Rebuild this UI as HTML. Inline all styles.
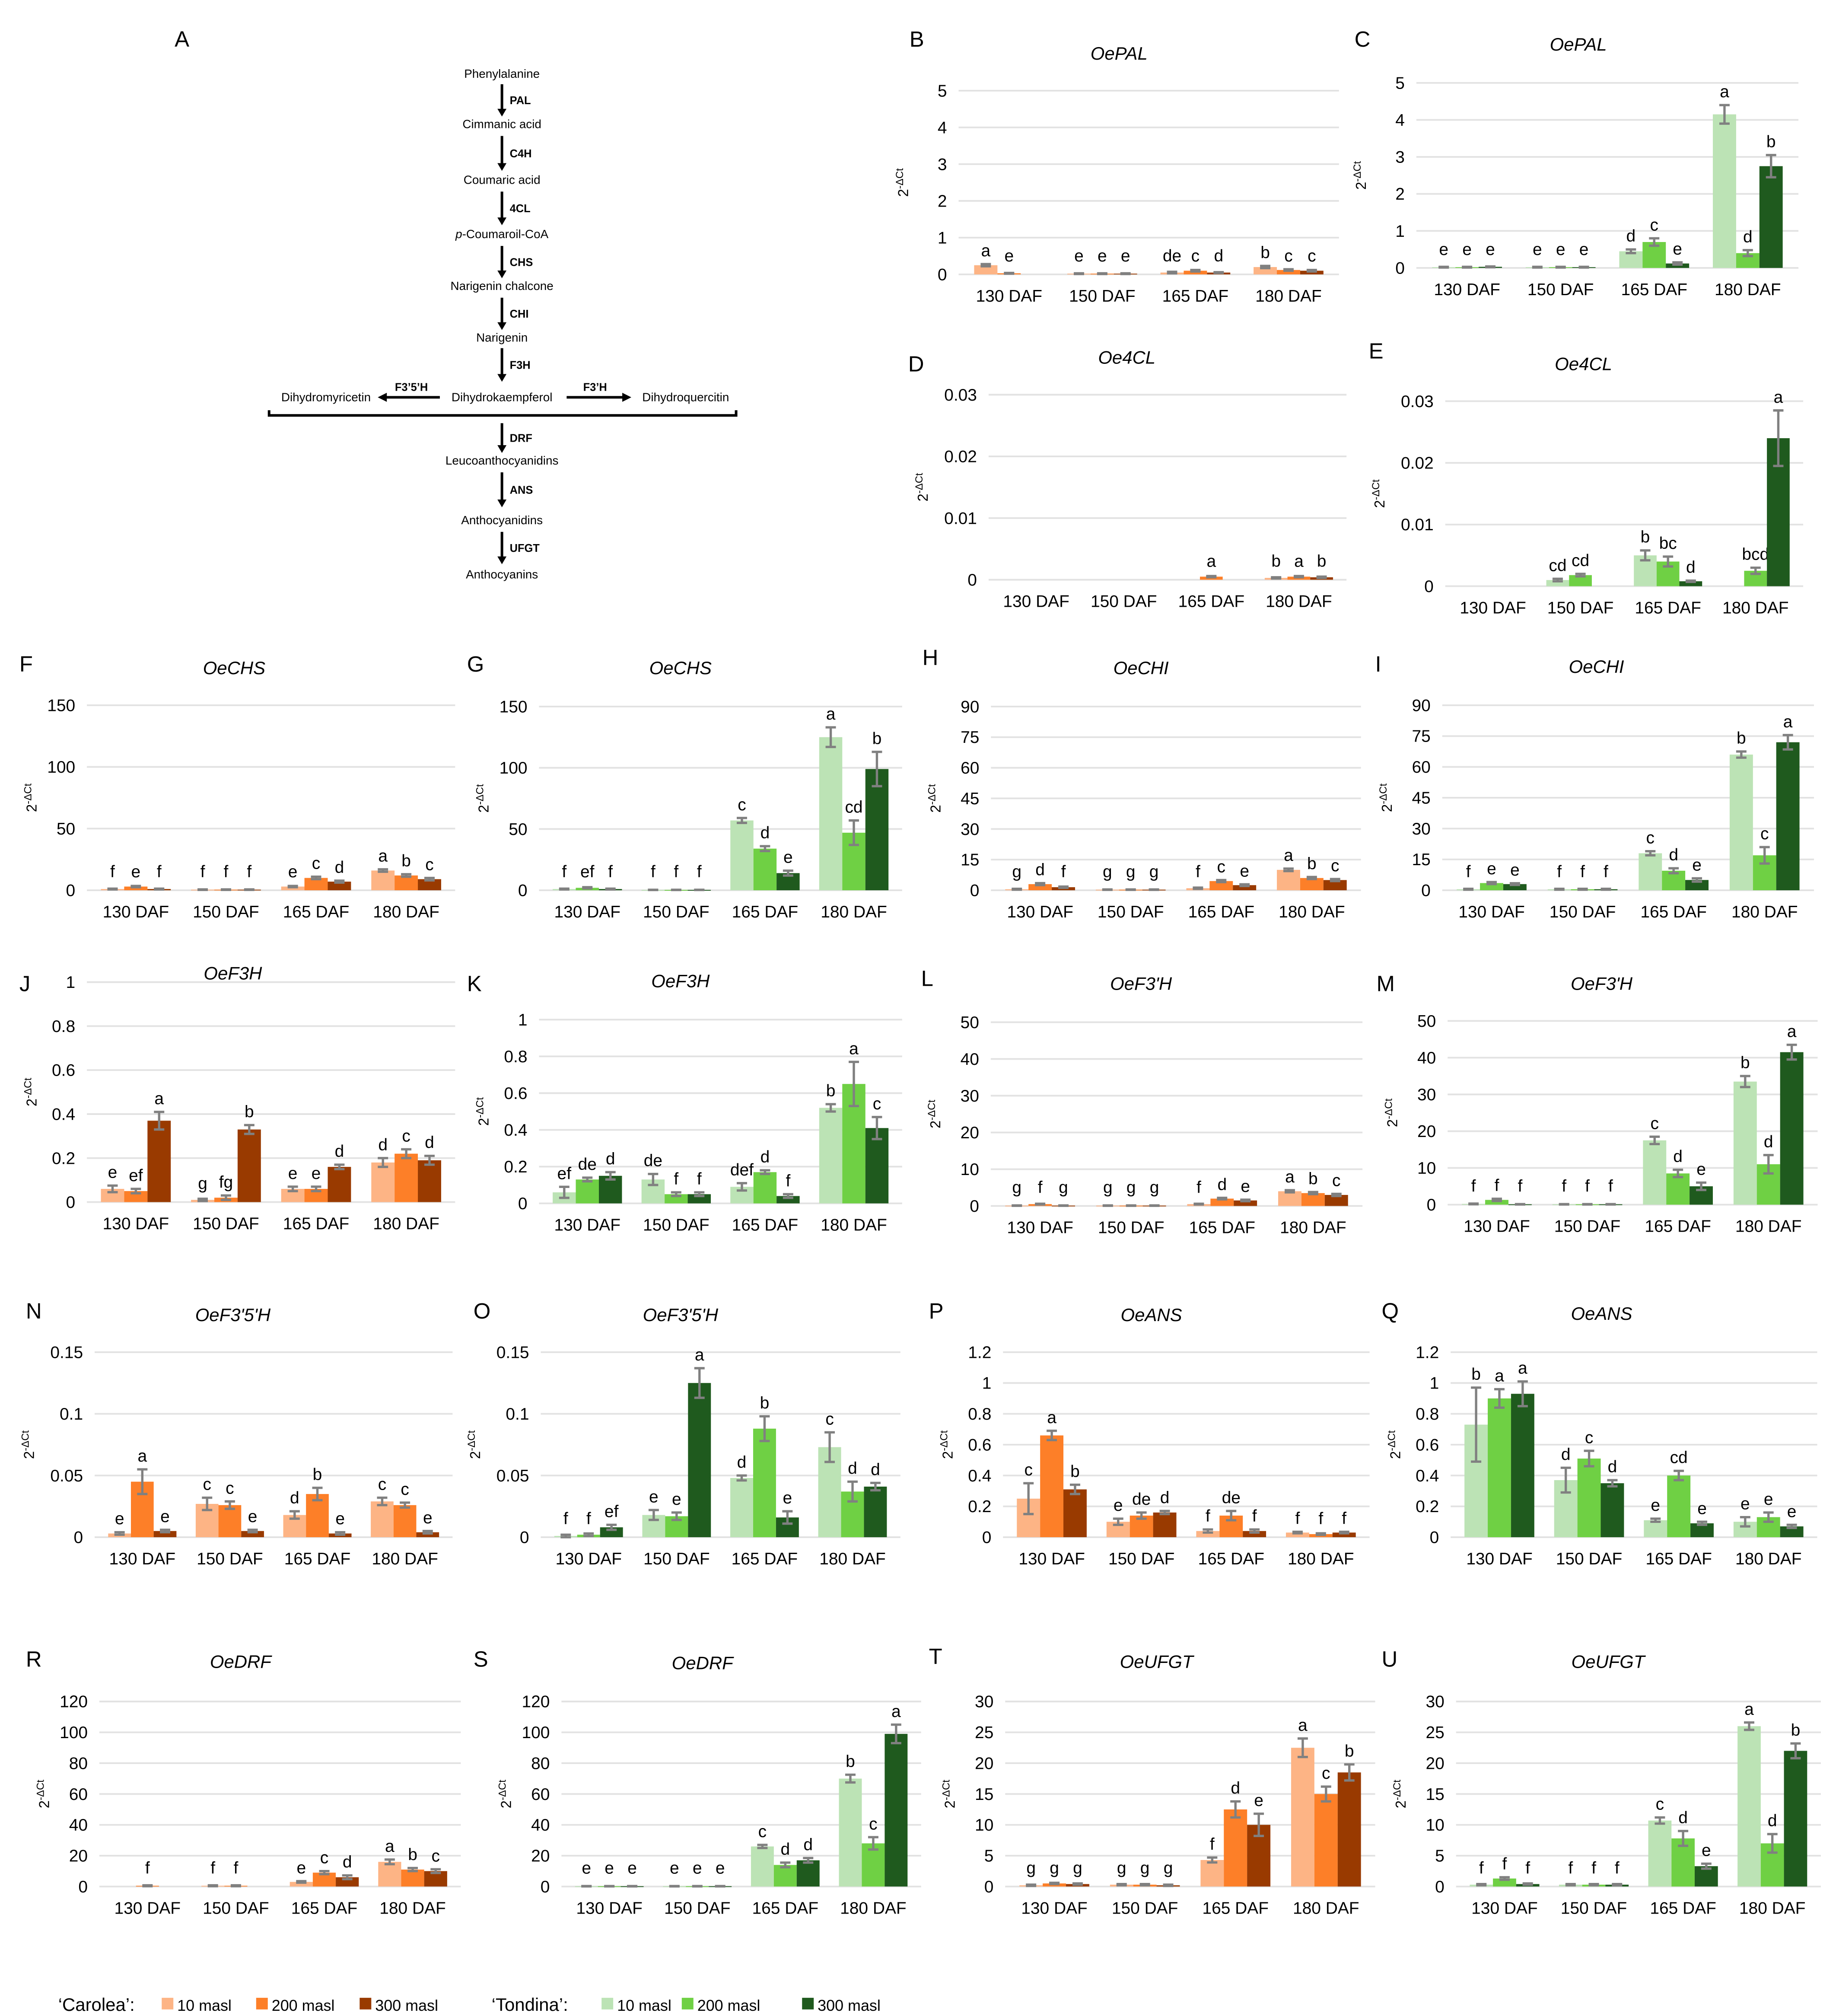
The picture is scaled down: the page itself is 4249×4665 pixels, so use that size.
<!DOCTYPE html>
<html><head><meta charset="utf-8"><style>
html,body{margin:0;padding:0;background:#fff;}
svg{display:block;font-family:"Liberation Sans",sans-serif;}
</style></head><body>
<svg id="fig" width="4249" height="4665" viewBox="0 0 1419.2 1558" xmlns="http://www.w3.org/2000/svg">
<g id="pathway" font-size="9" fill="#000">
<text x="135" y="36" font-size="17">A</text>
</g>
<g id="charts"></g>
<g id="legend" font-size="13"></g>
</svg>
<script>
const NS="http://www.w3.org/2000/svg";
const categories=["130 DAF","150 DAF","165 DAF","180 DAF"];
const caroleaColors=["#fdb485","#fd7f28","#993a00"];
const tondinaColors=["#bce3b5","#6fd044","#1f5a1e"];

const pB_values=[[0.25,0.03,0],[0.02,0.02,0.02],[0.05,0.1,0.05],[0.2,0.12,0.1]];
const pB_errors=[[0.03,0.01,0],[0.01,0.01,0.01],[0.02,0.02,0.01],[0.03,0.02,0.02]];
const pB_letters=[["a","e",""],["e","e","e"],["de","c","d"],["b","c","c"]];
const pC_values=[[0.02,0.02,0.03],[0.02,0.02,0.02],[0.45,0.7,0.12],[4.15,0.4,2.75]];
const pC_errors=[[0.01,0.01,0.01],[0.01,0.01,0.01],[0.05,0.1,0.03],[0.25,0.08,0.3]];
const pC_letters=[["e","e","e"],["e","e","e"],["d","c","e"],["a","d","b"]];
const pD_values=[[0,0,0],[0,0,0],[0,0.0005,0],[0.0003,0.0005,0.0004]];
const pD_errors=[[0,0,0],[0,0,0],[0,0.0001,0],[0.0001,0.0001,0.0001]];
const pD_letters=[["","",""],["","",""],["","a",""],["b","a","b"]];
const pE_values=[[0,0,0],[0.001,0.0018,0],[0.005,0.004,0.0008],[0,0.0025,0.024]];
const pE_errors=[[0,0,0],[0.0002,0.0002,0],[0.0008,0.0008,0.0001],[0,0.0005,0.0045]];
const pE_letters=[["","",""],["cd","cd",""],["b","bc","d"],["","bcd","a"]];
const pF_values=[[1,3,1],[0.5,0.5,0.5],[3,10,7],[16,12,9]];
const pF_errors=[[0.3,0.5,0.3],[0.2,0.2,0.2],[0.5,1,0.8],[1,1,1]];
const pF_letters=[["f","e","f"],["f","f","f"],["e","c","d"],["a","b","c"]];
const pG_values=[[1,2,1],[0.3,0.3,0.3],[57,34,14],[125,47,99]];
const pG_errors=[[0.3,0.5,0.3],[0.1,0.1,0.1],[2,2,2],[8,10,14]];
const pG_letters=[["f","ef","f"],["f","f","f"],["c","d","e"],["a","cd","b"]];
const pH_values=[[0.5,3,1.5],[0.3,0.3,0.3],[1,4.5,2.5],[10,6,5]];
const pH_errors=[[0.2,0.5,0.3],[0.1,0.1,0.1],[0.3,0.5,0.4],[0.6,0.5,0.5]];
const pH_letters=[["g","d","f"],["g","g","g"],["f","c","e"],["a","b","c"]];
const pI_values=[[0.5,3.5,3],[0.5,0.5,0.5],[18,9.5,5],[66,17,72]];
const pI_errors=[[0.2,0.5,0.4],[0.2,0.2,0.2],[1,1.2,0.8],[1.5,4,3.5]];
const pI_letters=[["f","e","e"],["f","f","f"],["c","d","e"],["b","c","a"]];
const pJ_values=[[0.06,0.05,0.37],[0.01,0.02,0.33],[0.06,0.06,0.16],[0.18,0.22,0.19]];
const pJ_errors=[[0.015,0.01,0.04],[0.005,0.01,0.02],[0.01,0.01,0.01],[0.02,0.02,0.02]];
const pJ_letters=[["e","ef","a"],["g","fg","b"],["e","e","d"],["d","c","d"]];
const pK_values=[[0.06,0.13,0.15],[0.13,0.05,0.05],[0.09,0.17,0.04],[0.52,0.65,0.41]];
const pK_errors=[[0.03,0.01,0.02],[0.03,0.01,0.01],[0.02,0.01,0.01],[0.02,0.12,0.06]];
const pK_letters=[["ef","de","d"],["de","f","f"],["def","d","f"],["b","a","c"]];
const pL_values=[[0.1,0.5,0.1],[0.1,0.1,0.1],[0.5,2,1.5],[4,3.5,3]];
const pL_errors=[[0.05,0.1,0.05],[0.05,0.05,0.05],[0.1,0.2,0.2],[0.3,0.3,0.3]];
const pL_letters=[["g","f","g"],["g","g","g"],["f","d","e"],["a","b","c"]];
const pM_values=[[0.2,1.3,0.1],[0.1,0.1,0.1],[17.5,8.5,5],[33.5,11,41.5]];
const pM_errors=[[0.1,0.3,0.05],[0.05,0.05,0.05],[1,1,1],[1.5,2.5,2]];
const pM_letters=[["f","f","f"],["f","f","f"],["c","d","e"],["b","d","a"]];
const pN_values=[[0.003,0.045,0.005],[0.027,0.026,0.005],[0.018,0.035,0.003],[0.029,0.026,0.004]];
const pN_errors=[[0.001,0.01,0.001],[0.005,0.003,0.001],[0.003,0.005,0.001],[0.003,0.002,0.001]];
const pN_letters=[["e","a","e"],["c","c","e"],["d","b","e"],["c","c","e"]];
const pO_values=[[0.001,0.002,0.008],[0.018,0.017,0.125],[0.048,0.088,0.016],[0.073,0.037,0.041]];
const pO_errors=[[0.001,0.001,0.002],[0.004,0.003,0.012],[0.002,0.01,0.005],[0.012,0.008,0.003]];
const pO_letters=[["f","f","ef"],["e","e","a"],["d","b","e"],["c","d","d"]];
const pP_values=[[0.25,0.66,0.31],[0.1,0.14,0.16],[0.04,0.14,0.04],[0.03,0.02,0.03]];
const pP_errors=[[0.1,0.03,0.03],[0.02,0.02,0.01],[0.01,0.03,0.01],[0.005,0.005,0.005]];
const pP_letters=[["c","a","b"],["e","de","d"],["f","de","f"],["f","f","f"]];
const pQ_values=[[0.73,0.9,0.93],[0.37,0.51,0.35],[0.11,0.4,0.09],[0.1,0.13,0.07]];
const pQ_errors=[[0.24,0.06,0.08],[0.08,0.05,0.02],[0.01,0.03,0.01],[0.03,0.03,0.01]];
const pQ_letters=[["b","a","a"],["d","c","d"],["e","cd","e"],["e","e","e"]];
const pR_values=[[0,0.5,0],[0.5,0.5,0],[3,9,6],[16,11,10]];
const pR_errors=[[0,0.3,0],[0.3,0.3,0],[0.5,1,1.2],[1.5,1,1.2]];
const pR_letters=[["","f",""],["f","f",""],["e","c","d"],["a","b","c"]];
const pS_values=[[0.2,0.2,0.2],[0.2,0.2,0.2],[26,14,17],[70,28,99]];
const pS_errors=[[0.1,0.1,0.1],[0.1,0.1,0.1],[1,1.5,1.5],[2.5,4,6]];
const pS_letters=[["e","e","e"],["e","e","e"],["c","d","d"],["b","c","a"]];
const pT_values=[[0.2,0.5,0.4],[0.3,0.3,0.2],[4.3,12.5,10],[22.5,15,18.5]];
const pT_errors=[[0.1,0.1,0.1],[0.1,0.1,0.1],[0.4,1.3,1.8],[1.5,1.2,1.3]];
const pT_letters=[["g","g","g"],["g","g","g"],["f","d","e"],["a","c","b"]];
const pU_values=[[0.3,1.3,0.4],[0.3,0.3,0.3],[10.7,7.8,3.3],[26,7,22]];
const pU_errors=[[0.1,0.2,0.1],[0.1,0.1,0.1],[0.5,1.2,0.4],[0.6,1.5,1.2]];
const pU_letters=[["f","f","f"],["f","f","f"],["c","d","e"],["a","d","b"]];

const ticksPAL=["0","1","2","3","4","5"];
const ticks4CL=["0","0.01","0.02","0.03"];
const ticksCHS=["0","50","100","150"];
const ticksCHI=["0","15","30","45","60","75","90"];
const ticksF3H=["0","0.2","0.4","0.6","0.8","1"];
const ticksF3pH=["0","10","20","30","40","50"];
const ticksF35H=["0","0.05","0.1","0.15"];
const ticksANS=["0","0.2","0.4","0.6","0.8","1","1.2"];
const ticksDRF=["0","20","40","60","80","100","120"];
const ticksUFGT=["0","5","10","15","20","25","30"];

function mk(tag,attrs,parent,text){const e=document.createElementNS(NS,tag);for(const k in attrs)e.setAttribute(k,attrs[k]);if(text!==undefined)e.textContent=text;parent.appendChild(e);return e;}

const panels=[
 {id:"B",title:"OePAL",c1:780,c4:996,tX:865,tY:46,yTop:70,yZero:212,ticks:ticksPAL,v:pB_values,e:pB_errors,l:pB_letters,c:caroleaColors,lx:703,ly:36},
 {id:"C",title:"OePAL",c1:1134,c4:1351,tX:1220,tY:39,yTop:64,yZero:207,ticks:ticksPAL,v:pC_values,e:pC_errors,l:pC_letters,c:tondinaColors,lx:1047,ly:36},
 {id:"D",title:"Oe4CL",c1:801,c4:1004,tX:871,tY:281,yTop:305,yZero:448,ticks:ticks4CL,v:pD_values,e:pD_errors,l:pD_letters,c:caroleaColors,lx:702,ly:287},
 {id:"E",title:"Oe4CL",c1:1154,c4:1357,tX:1224,tY:286,yTop:310,yZero:453,ticks:ticks4CL,v:pE_values,e:pE_errors,l:pE_letters,c:tondinaColors,lx:1058,ly:277},
 {id:"F",title:"OeCHS",c1:105,c4:314,tX:181,tY:521,yTop:545,yZero:688,ticks:ticksCHS,v:pF_values,e:pF_errors,l:pF_letters,c:caroleaColors,lx:15,ly:519},
 {id:"G",title:"OeCHS",c1:454,c4:660,tX:526,tY:521,yTop:546,yZero:688,ticks:ticksCHS,v:pG_values,e:pG_errors,l:pG_letters,c:tondinaColors,lx:361,ly:519},
 {id:"H",title:"OeCHI",c1:804,c4:1014,tX:882,tY:521,yTop:546,yZero:688,ticks:ticksCHI,v:pH_values,e:pH_errors,l:pH_letters,c:caroleaColors,lx:713,ly:514},
 {id:"I",title:"OeCHI",c1:1153,c4:1364,tX:1234,tY:520,yTop:545,yZero:688,ticks:ticksCHI,v:pI_values,e:pI_errors,l:pI_letters,c:tondinaColors,lx:1063,ly:519},
 {id:"J",title:"OeF3H",c1:105,c4:314,tX:180,tY:757,yTop:759,yZero:929,ticks:ticksF3H,v:pJ_values,e:pJ_errors,l:pJ_letters,c:caroleaColors,lx:15,ly:766},
 {id:"K",title:"OeF3H",c1:454,c4:660,tX:526,tY:763,yTop:788,yZero:930,ticks:ticksF3H,v:pK_values,e:pK_errors,l:pK_letters,c:tondinaColors,lx:361,ly:766},
 {id:"L",title:"OeF3'H",c1:804,c4:1015,tX:882,tY:765,yTop:790,yZero:932,ticks:ticksF3pH,v:pL_values,e:pL_errors,l:pL_letters,c:caroleaColors,lx:712,ly:762},
 {id:"M",title:"OeF3'H",c1:1157,c4:1367,tX:1238,tY:765,yTop:789,yZero:931,ticks:ticksF3pH,v:pM_values,e:pM_errors,l:pM_letters,c:tondinaColors,lx:1064,ly:766},
 {id:"N",title:"OeF3'5'H",c1:110,c4:313,tX:180,tY:1021,yTop:1045,yZero:1188,ticks:ticksF35H,v:pN_values,e:pN_errors,l:pN_letters,c:caroleaColors,lx:20,ly:1019},
 {id:"O",title:"OeF3'5'H",c1:455,c4:659,tX:526,tY:1021,yTop:1045,yZero:1188,ticks:ticksF35H,v:pO_values,e:pO_errors,l:pO_letters,c:tondinaColors,lx:366,ly:1019},
 {id:"P",title:"OeANS",c1:813,c4:1021,tX:890,tY:1021,yTop:1045,yZero:1188,ticks:ticksANS,v:pP_values,e:pP_errors,l:pP_letters,c:caroleaColors,lx:718,ly:1019},
 {id:"Q",title:"OeANS",c1:1159,c4:1367,tX:1238,tY:1020,yTop:1045,yZero:1188,ticks:ticksANS,v:pQ_values,e:pQ_errors,l:pQ_letters,c:tondinaColors,lx:1068,ly:1019},
 {id:"R",title:"OeDRF",c1:114,c4:319,tX:186,tY:1289,yTop:1315,yZero:1458,ticks:ticksDRF,v:pR_values,e:pR_errors,l:pR_letters,c:caroleaColors,lx:20,ly:1288},
 {id:"S",title:"OeDRF",c1:471,c4:675,tX:543,tY:1290,yTop:1315,yZero:1458,ticks:ticksDRF,v:pS_values,e:pS_errors,l:pS_letters,c:tondinaColors,lx:366,ly:1288},
 {id:"T",title:"OeUFGT",c1:815,c4:1025,tX:894,tY:1289,yTop:1315,yZero:1458,ticks:ticksUFGT,v:pT_values,e:pT_errors,l:pT_letters,c:caroleaColors,lx:718,ly:1286},
 {id:"U",title:"OeUFGT",c1:1163,c4:1370,tX:1243,tY:1289,yTop:1315,yZero:1458,ticks:ticksUFGT,v:pU_values,e:pU_errors,l:pU_letters,c:tondinaColors,lx:1068,ly:1288}
];

const root=document.getElementById("charts");
panels.forEach(p=>{
  const gw=(p.c4-p.c1)/3;
  p.x0=p.c1-gw/2; p.x1=p.c4+gw/2;
  const g=mk("g",{},root);
  
  
  const maxV=parseFloat(p.ticks[p.ticks.length-1]);
  const yScale=v=>p.yZero-(v/maxV)*(p.yZero-p.yTop);
  const xCenter=i=>p.x0+gw*(i+0.5);
  const bw=Math.min(18,gw*0.26);
  const pl=mk("text",{x:p.lx,y:p.ly,"font-size":17},g,p.id);
  
  
  const tt=mk("text",{x:p.tX,y:p.tY,"font-size":14,"font-style":"italic","text-anchor":"middle"},g,p.title);
  
  
  p.ticks.forEach(t=>{
    const y=yScale(parseFloat(t));
    const gl=mk("line",{x1:p.x0-3,x2:p.x1+3,y1:y,y2:y,stroke:"#e2e2e2","stroke-width":1.3},g);
    
    
    const tl=mk("text",{x:p.x0-12,y:y+4.5,"font-size":13,"text-anchor":"end"},g,t);
    
    
  });
  const ym=(p.yTop+p.yZero)/2, yx=p.x0-(p.ticks[p.ticks.length-1].length>3?50:42);
  const yt=mk("text",{x:yx,y:ym,"font-size":11,"text-anchor":"middle",transform:`rotate(-90 ${yx} ${ym})`},g);
  
  
  mk("tspan",{},yt,"2");
  mk("tspan",{dy:-4,"font-size":8},yt,"-ΔCt");
  categories.forEach((c,i)=>{
    const cl=mk("text",{x:xCenter(i),y:p.yZero+21,"font-size":13,"text-anchor":"middle"},g,c);
    
    
    for(let s=0;s<3;s++){
      const v=p.v[i][s],er=p.e[i][s],lt=p.l[i][s];
      const bx=xCenter(i)+(s-1.5)*bw;
      const cx=bx+bw/2;
      if(v>0){
        const r=mk("rect",{x:bx,y:yScale(v),width:bw,height:Math.max(0.6,p.yZero-yScale(v)),fill:p.c[s]},g);
        
        
        if(er>0){
          const eg=mk("g",{stroke:"#808080","stroke-width":1.8},g);
          
          
          const yt1=yScale(v+er),yb=Math.min(p.yZero,yScale(v-er));
          mk("line",{x1:cx,x2:cx,y1:yt1,y2:yb},eg);
          mk("line",{x1:cx-4,x2:cx+4,y1:yt1,y2:yt1},eg);
          mk("line",{x1:cx-4,x2:cx+4,y1:yb,y2:yb},eg);
        }
      }
      if(lt){
        const ly=yScale(v+er)-6;
        const le=mk("text",{x:cx,y:Math.min(ly,p.yZero-10),"font-size":13,"text-anchor":"middle"},g,lt);
        
        
      }
    }
  });
});

// pathway diagram
const pw=document.getElementById("pathway");
const cxp=388;
const nodes=[["Phenylalanine",60],["Cimmanic acid",99],["Coumaric acid",142],["p-Coumaroil-CoA",184],["Narigenin chalcone",224],["Narigenin",264],["Dihydrokaempferol",310],["Leucoanthocyanidins",359],["Anthocyanidins",405],["Anthocyanins",447]];
const enzymes=["PAL","C4H","4CL","CHS","CHI","F3H","DRF","ANS","UFGT"];
const arrows=[[65,90],[105,132],[148,174],[190,215],[230,255],[269,295],[327,350],[365,392],[411,436]];
nodes.forEach(n=>{
  const t=mk("text",{x:cxp,y:n[1],"text-anchor":"middle","font-size":9.3},pw);
  
  
  if(n[0].startsWith("p-")){mk("tspan",{"font-style":"italic"},t,"p");mk("tspan",{},t,n[0].slice(1));}
  else t.textContent=n[0];
});
arrows.forEach((a,i)=>{
  const ag=mk("g",{},pw);
  
  
  mk("line",{x1:cxp,x2:cxp,y1:a[0],y2:a[1]-5,stroke:"#000","stroke-width":2},ag);
  mk("polygon",{points:`${cxp-3.5},${a[1]-6} ${cxp+3.5},${a[1]-6} ${cxp},${a[1]}`,fill:"#000"},ag);
  mk("text",{x:cxp+6,y:(a[0]+a[1])/2+3,"font-weight":"bold","font-size":8.5},ag,enzymes[i]);
});
[["Dihydromyricetin",252],["Dihydroquercitin",530]].forEach(n=>{
  const t=mk("text",{x:n[1],y:310,"text-anchor":"middle","font-size":9.3},pw,n[0]);
  
  
});
const sideArrows=mk("g",{},pw);


mk("line",{x1:340,x2:298,y1:307,y2:307,stroke:"#000","stroke-width":2},sideArrows);
mk("polygon",{points:"292,307 299,303.5 299,310.5",fill:"#000"},sideArrows);
mk("text",{x:318,y:302,"font-weight":"bold","font-size":8.5,"text-anchor":"middle"},sideArrows,"F3’5’H");
mk("line",{x1:438,x2:482,y1:307,y2:307,stroke:"#000","stroke-width":2},sideArrows);
mk("polygon",{points:"488,307 481,303.5 481,310.5",fill:"#000"},sideArrows);
mk("text",{x:460,y:302,"font-weight":"bold","font-size":8.5,"text-anchor":"middle"},sideArrows,"F3’H");
mk("polyline",{points:"208,317 208,321 569,321 569,317",fill:"none",stroke:"#000","stroke-width":2},sideArrows);

// legend
const lg=document.getElementById("legend");
function legendBlock(label,x,colors,offs){
  mk("text",{x:x,y:1554,"font-size":14},lg,label);
  const items=["10 masl","200 masl","300 masl"];
  items.forEach((it,i)=>{
    const e=mk("g",{},lg);
    
    
    mk("rect",{x:x+offs[i],y:1544,width:9,height:9,fill:colors[i]},e);
    mk("text",{x:x+offs[i]+12,y:1554,"font-size":12},e,it);
  });
}
legendBlock("‘Carolea’:",45,caroleaColors,[80,153,233]);
legendBlock("‘Tondina’:",380,tondinaColors,[85,147,240]);
</script>
</body></html>
